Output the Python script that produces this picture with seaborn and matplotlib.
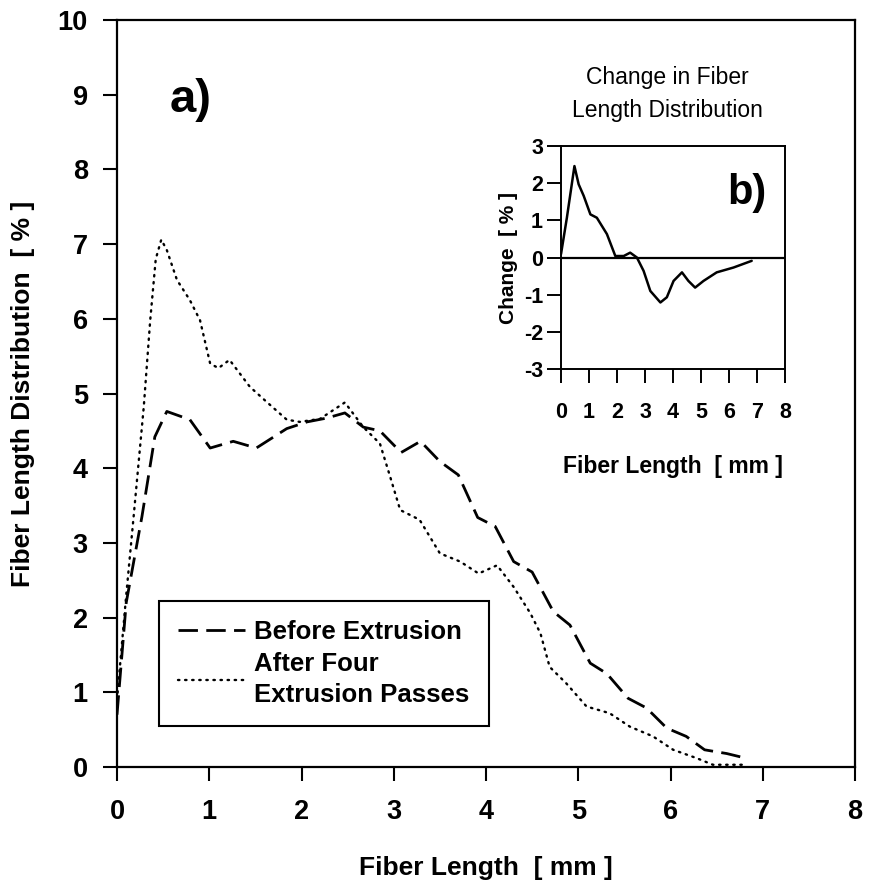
import matplotlib
matplotlib.use("Agg")
import matplotlib.pyplot as plt
import seaborn as sns
import pandas as pd

# ---- data ----
before_x = [0, 0.1, 0.27, 0.41, 0.54, 0.79, 1.01, 1.26, 1.51, 1.84, 2.06, 2.27, 2.47, 2.67,
            2.85, 3.08, 3.29, 3.50, 3.70, 3.91, 4.10, 4.30, 4.50, 4.73, 4.91, 5.13, 5.31,
            5.54, 5.74, 5.96, 6.17, 6.37, 6.61, 6.81]
before_y = [0.7, 2.2, 3.35, 4.42, 4.76, 4.65, 4.27, 4.36, 4.27, 4.53, 4.62, 4.67, 4.74, 4.55,
            4.50, 4.21, 4.36, 4.09, 3.91, 3.34, 3.22, 2.75, 2.61, 2.08, 1.90, 1.39, 1.25,
            0.92, 0.79, 0.52, 0.41, 0.23, 0.18, 0.12]

after_x = [0, 0.1, 0.18, 0.29, 0.36, 0.42, 0.48, 0.54, 0.65, 0.79, 0.90, 1.01, 1.10, 1.22,
           1.33, 1.44, 1.62, 1.84, 1.98, 2.2, 2.47, 2.67, 2.85, 2.96, 3.07, 3.28, 3.50,
           3.72, 3.92, 4.12, 4.30, 4.48, 4.59, 4.69, 4.87, 5.09, 5.34, 5.56, 5.81, 6.03,
           6.28, 6.46, 6.81]
after_y = [0.9, 2.3, 3.35, 4.82, 5.98, 6.8, 7.06, 6.92, 6.52, 6.25, 5.98, 5.40, 5.34, 5.45,
           5.27, 5.09, 4.89, 4.65, 4.62, 4.66, 4.88, 4.55, 4.33, 3.89, 3.44, 3.31, 2.86,
           2.75, 2.59, 2.70, 2.41, 2.06, 1.79, 1.34, 1.12, 0.81, 0.72, 0.54, 0.41, 0.23,
           0.12, 0.03, 0.03]

change_x = [0, 0.21, 0.48, 0.63, 0.81, 1.05, 1.28, 1.64, 1.94, 2.24, 2.47, 2.71, 2.95, 3.19,
            3.55, 3.78, 4.02, 4.32, 4.55, 4.79, 5.09, 5.56, 6.16, 6.81]
change_y = [0.09, 1.07, 2.46, 1.97, 1.66, 1.16, 1.07, 0.63, 0.04, 0.04, 0.13, 0.0, -0.36,
            -0.90, -1.21, -1.07, -0.63, -0.40, -0.63, -0.81, -0.63, -0.40, -0.27, -0.09]

main_xticks = [0, 1, 2, 3, 4, 5, 6, 7, 8]
main_yticks = [0, 1, 2, 3, 4, 5, 6, 7, 8, 9, 10]
inset_xticks = [0, 1, 2, 3, 4, 5, 6, 7, 8]
inset_yticks = [-3, -2, -1, 0, 1, 2, 3]

label_before = "Before Extrusion"
label_after = "After Four\nExtrusion Passes"

# ---- style ----
sns.set_style("ticks")
plt.rcParams["font.family"] = ["Liberation Sans", "DejaVu Sans"]
plt.rcParams["font.weight"] = "bold"
plt.rcParams["axes.unicode_minus"] = False
for k in ["text.color", "axes.labelcolor", "xtick.color", "ytick.color", "axes.edgecolor"]:
    plt.rcParams[k] = "black"

W, H = 877, 884
fig = plt.figure(figsize=(W / 100, H / 100), dpi=100)

def fbox(l, t, r, b):
    return [l / W, 1 - b / H, (r - l) / W, (b - t) / H]

ax = fig.add_axes(fbox(117, 20, 855, 767))

df_b = pd.DataFrame({"x": before_x, "y": before_y})
df_a = pd.DataFrame({"x": after_x, "y": after_y})
sns.lineplot(data=df_b, x="x", y="y", ax=ax, color="black", lw=2.0,
             label=label_before, sort=False)
sns.lineplot(data=df_a, x="x", y="y", ax=ax, color="black", lw=1.7,
             label=label_after, sort=False)
ax.lines[0].set_dashes([7, 3])
ax.lines[1].set_dashes([0.6, 2.4])
ax.lines[1].set_dash_capstyle("round")

ax.set_xlim(0, 8)
ax.set_ylim(0, 10)
ax.set_xticks(main_xticks)
ax.set_yticks(main_yticks)
ax.tick_params(direction="out", length=10, width=1.5, labelsize=19.5)
ax.tick_params(axis="x", pad=13)
ax.tick_params(axis="y", pad=11)
for s in ax.spines.values():
    s.set_visible(True)
    s.set_linewidth(1.6)
    s.set_color("black")
ax.set_xlabel("Fiber Length  [ mm ]", fontsize=19, fontweight="bold", labelpad=22)
ax.set_ylabel("Fiber Length Distribution  [ % ]", fontsize=19, fontweight="bold", labelpad=16)

leg = ax.legend(loc="upper left", bbox_to_anchor=(0.057, 0.222), fontsize=18.5,
                frameon=True, fancybox=False, framealpha=1, edgecolor="black",
                handlelength=2.6, handletextpad=0.35, borderpad=0.75, labelspacing=0.3,
                borderaxespad=0)
leg.get_frame().set_linewidth(1.5)
for t in leg.get_texts():
    t.set_fontweight("bold")
    t.set_linespacing(1.35)

fig.text(191 / W, 1 - 100 / H, "a)", fontsize=34, fontweight="bold",
         ha="center", va="center")

# ---- inset ----
ax2 = fig.add_axes(fbox(561, 146, 785, 369))
df_c = pd.DataFrame({"x": change_x, "y": change_y})
sns.lineplot(data=df_c, x="x", y="y", ax=ax2, color="black", lw=1.8, sort=False)
ax2.axhline(0, color="black", lw=1.6)
ax2.set_xlim(0, 8)
ax2.set_ylim(-3, 3)
ax2.set_xticks(inset_xticks)
ax2.set_yticks(inset_yticks)
ax2.tick_params(direction="out", length=10, width=1.4, labelsize=15.5)
ax2.tick_params(axis="x", pad=14)
ax2.tick_params(axis="y", pad=3)
for s in ax2.spines.values():
    s.set_visible(True)
    s.set_linewidth(1.4)
    s.set_color("black")
ax2.set_xlabel("Fiber Length  [ mm ]", fontsize=16.5, fontweight="bold", labelpad=23)
ax2.set_ylabel("Change  [ % ]", fontsize=15, fontweight="bold", labelpad=4)
ax2.text(0.83, 0.79, "b)", transform=ax2.transAxes, fontsize=30, fontweight="bold",
         ha="center", va="center")
fig.text(667 / W, 1 - 94 / H, "Change in Fiber\nLength Distribution", fontsize=16.5,
         fontweight="normal", ha="center", va="center", linespacing=1.55)

fig.savefig("out.png", dpi=100)
